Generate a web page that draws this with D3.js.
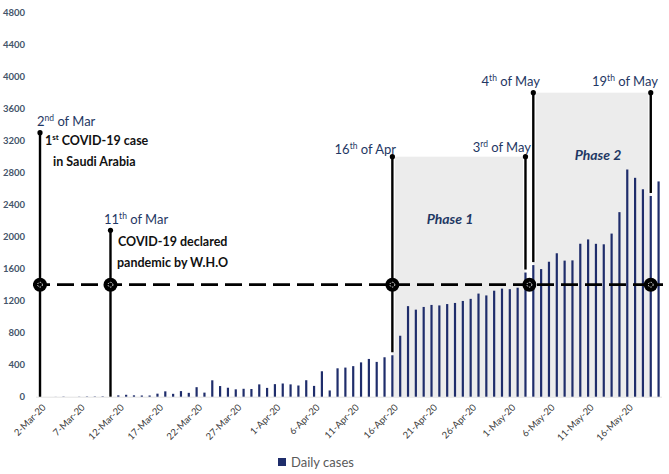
<!DOCTYPE html>
<html><head><meta charset="utf-8">
<script src="https://cdn.jsdelivr.net/npm/d3@7"></script>
<style>
html,body{margin:0;padding:0;background:#fff;}
svg{display:block;font-family:Lato,"Open Sans",sans-serif;}
</style></head>
<body>
<svg id="chart" width="669" height="474"></svg>
<script>
// ---- data ----
const startDate = "2020-03-02";
const dailyCases = [1,0,1,3,0,2,4,4,5,1,
  17,24,17,15,15,38,67,36,70,48,
  119,51,205,133,112,92,99,96,154,110,
  157,165,154,140,206,135,318,78,355,364,
  382,429,472,435,493,518,762,1132,1088,1122,
  1147,1141,1158,1172,1197,1223,1289,1266,1325,1351,
  1344,1362,1552,1645,1595,1687,1793,1701,1704,1912,
  1966,1911,1905,2039,2307,2840,2736,2593,2509,2691];
const yTicks = [0,400,800,1200,1600,2000,2400,2800,3200,3600,4000,4400,4800];
const labelEvery = 5;
const refLevel = 1400;
// annotation events: date, top value
const events = [
  {date:"2020-03-02", top:3300, num:"2", sup:"nd", mon:"Mar"},
  {date:"2020-03-11", top:2080, num:"11", sup:"th", mon:"Mar"},
  {date:"2020-04-16", top:3000, num:"16", sup:"th", mon:"Apr"},
  {date:"2020-05-03", top:3000, num:"3", sup:"rd", mon:"May"},
  {date:"2020-05-04", top:3800, num:"4", sup:"th", mon:"May"},
  {date:"2020-05-19", top:3800, num:"19", sup:"th", mon:"May"}
];
const phases = [
  {name:"Phase 1", from:"2020-04-16", to:"2020-05-03", top:3000},
  {name:"Phase 2", from:"2020-05-04", to:"2020-05-19", top:3800}
];
const markerDates = ["2020-03-02","2020-03-11","2020-04-16","2020-05-03|2020-05-04","2020-05-19"];

// ---- build ----
const parse = d3.timeParse("%Y-%m-%d");
const fmt = d3.timeFormat("%Y-%m-%d");
const d0 = parse(startDate);
const dates = dailyCases.map((v,i)=>fmt(d3.timeDay.offset(d0,i)));
const data = dates.map((d,i)=>({date:d, value:dailyCases[i]}));
const valOf = Object.fromEntries(data.map(d=>[d.date,d.value]));

const svg = d3.select("#chart");
const x = d3.scaleBand().domain(dates).range([36.1, 662.5]).paddingInner(0.72).paddingOuter(0.36);
const y = d3.scaleLinear().domain([0,4800]).range([396.7, 12.7]);
const cx = d => x(d) + x.bandwidth()/2;

// phase shading
svg.append("g").selectAll("rect").data(phases).join("rect")
  .attr("x", d=>cx(d.from)).attr("width", d=>cx(d.to)-cx(d.from))
  .attr("y", d=>y(d.top)).attr("height", d=>y(0)-y(d.top))
  .attr("fill","#ececec");

// baseline
svg.append("line").attr("x1",36).attr("x2",662).attr("y1",y(0)+0.5).attr("y2",y(0)+0.5)
  .attr("stroke","#e2e2e2").attr("stroke-width",1);

// y axis labels
const yAxis = d3.axisLeft(y).tickValues(yTicks).tickFormat(d3.format("d")).tickSize(0).tickPadding(0);
const yg = svg.append("g").attr("transform","translate(25,0)").call(yAxis);
yg.select(".domain").remove();
yg.selectAll("text").attr("font-family","Lato, sans-serif").attr("font-size",9.5)
  .attr("font-weight","bold").attr("fill","#44546a").attr("dy","0.34em");

// x axis labels
const xfmt = d3.timeFormat("%-d-%b-%y");
const xAxis = d3.axisBottom(x).tickValues(dates.filter((d,i)=>i%labelEvery===0))
  .tickSize(0).tickFormat(d=>xfmt(parse(d)));
const xg = svg.append("g").attr("transform",`translate(0,${y(0)})`).call(xAxis);
xg.select(".domain").remove();
xg.selectAll("text").attr("font-family","Lato, sans-serif").attr("font-size",9.5)
  .attr("fill","#404040").attr("text-anchor","end")
  .attr("transform","translate(4,9) rotate(-45)").attr("dy","0.35em").attr("y",0);

// bars
svg.append("g").selectAll("rect").data(data).join("rect")
  .attr("x", d=>x(d.date)).attr("width", x.bandwidth())
  .attr("y", d=>y(d.value)).attr("height", d=>y(0)-y(d.value))
  .attr("fill","#1f2d6b");

// event lines
const lg = svg.append("g");
events.forEach(e=>{
  const v = valOf[e.date];
  const y2 = v > 50 ? y(v) - 3 : y(0);
  lg.append("line").attr("x1",cx(e.date)).attr("x2",cx(e.date))
    .attr("y1",y(e.top)).attr("y2",y2).attr("stroke","#fff").attr("stroke-width",5);
  lg.append("line").attr("x1",cx(e.date)).attr("x2",cx(e.date))
    .attr("y1",y(e.top)).attr("y2",y2).attr("stroke","#000").attr("stroke-width",2.4);
  lg.append("circle").attr("cx",cx(e.date)).attr("cy",y(e.top)).attr("r",2.6).attr("fill","#000");
});

// dashed reference line
svg.append("line").attr("x1",33).attr("x2",663).attr("y1",y(refLevel)).attr("y2",y(refLevel))
  .attr("stroke","#000").attr("stroke-width",2.8).attr("stroke-dasharray","17,7");

// markers
markerDates.forEach(m=>{
  const ps = m.split("|");
  const mx = d3.mean(ps, cx);
  svg.append("circle").attr("cx",mx).attr("cy",y(refLevel)).attr("r",7).attr("fill","#000");
  svg.append("circle").attr("cx",mx).attr("cy",y(refLevel)).attr("r",2.4).attr("fill","none")
    .attr("stroke","#fff").attr("stroke-width",0.9).attr("stroke-dasharray","1.3,1.2");
});

// date labels
const navy = "#1f3864";
function dateLabel(e, xp, yp, anchor){
  const t = svg.append("text").attr("x",xp).attr("y",yp).attr("text-anchor",anchor)
    .attr("font-family","Lato, sans-serif").attr("font-size",13).attr("fill",navy);
  t.append("tspan").text(e.num);
  t.append("tspan").attr("font-size",8.5).attr("dy",-5.5).text(e.sup);
  t.append("tspan").attr("dy",5.5).text(" of "+e.mon);
}
dateLabel(events[0], 37, 126, "start");
dateLabel(events[1], 104, 224, "start");
dateLabel(events[2], 396, 154, "end");
dateLabel(events[3], 531, 152, "end");
dateLabel(events[4], 540, 86, "end");
dateLabel(events[5], 658, 86, "end");

// description texts
function note(xp, yp, parts){
  const t = svg.append("text").attr("x",xp).attr("y",yp)
    .attr("font-family","Lato, sans-serif").attr("font-size",12.5).attr("font-weight","bold").attr("fill","#111");
  parts.forEach(p=>{
    const s = t.append("tspan").text(p.t);
    if(p.sup){ s.attr("font-size",8).attr("dy",-5); }
    if(p.down){ s.attr("dy",5); }
  });
}
note(45, 145, [{t:"1"},{t:"st",sup:true},{t:" COVID-19 case",down:true}]);
note(53, 166, [{t:"in Saudi Arabia"}]);
note(118, 246, [{t:"COVID-19 declared"}]);
note(117, 267, [{t:"pandemic by W.H.O"}]);

// phase labels
svg.append("text").attr("x",450).attr("y",224).attr("text-anchor","middle")
  .attr("font-family","Lato, sans-serif").attr("font-size",14).attr("font-style","italic")
  .attr("font-weight","bold").attr("fill",navy).text(phases[0].name);
svg.append("text").attr("x",598).attr("y",160).attr("text-anchor","middle")
  .attr("font-family","Lato, sans-serif").attr("font-size",14).attr("font-style","italic")
  .attr("font-weight","bold").attr("fill",navy).text(phases[1].name);

// legend
svg.append("rect").attr("x",278).attr("y",458).attr("width",8).attr("height",8).attr("fill","#1f2d6b");
svg.append("text").attr("x",291).attr("y",467).attr("font-family","Lato, sans-serif")
  .attr("font-size",13).attr("fill","#595959").text("Daily cases");
</script>
</body></html>
